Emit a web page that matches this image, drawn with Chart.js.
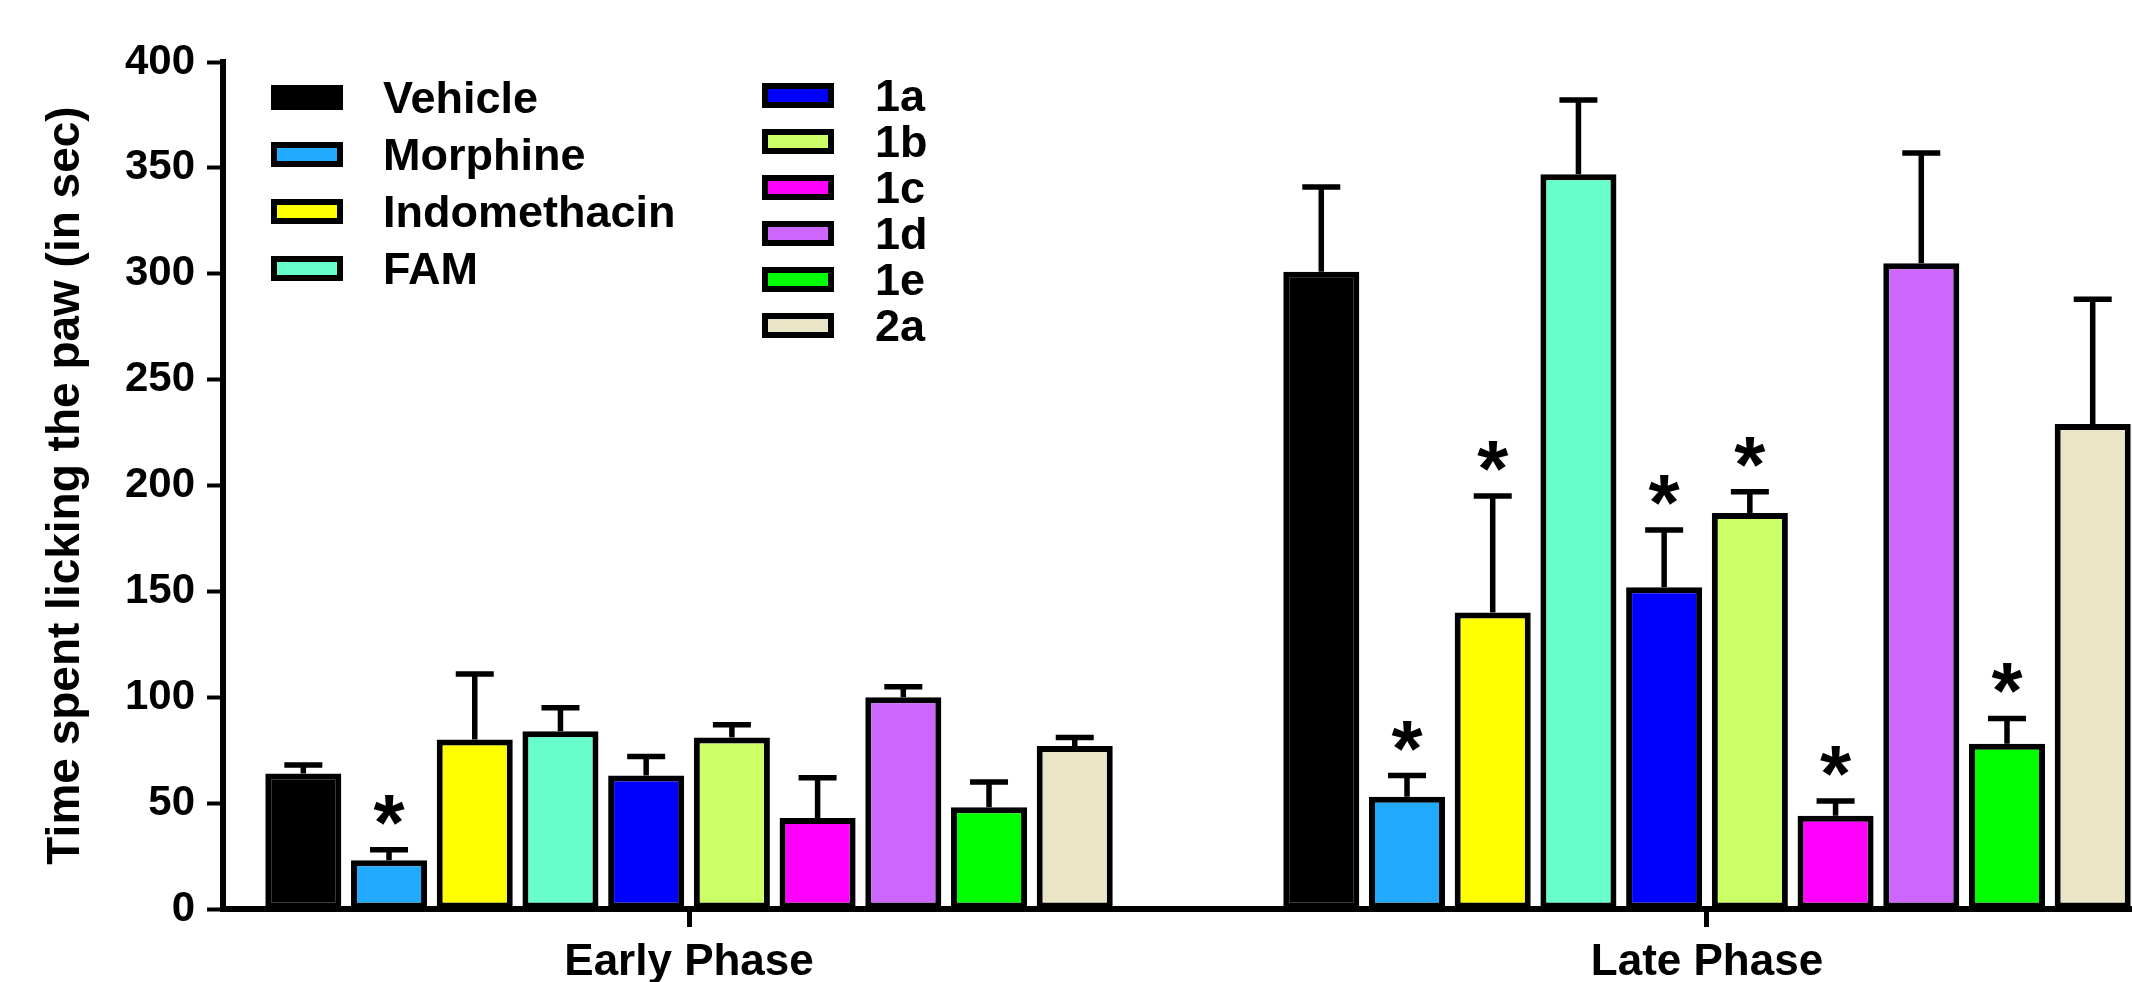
<!DOCTYPE html>
<html>
<head>
<meta charset="utf-8">
<script src="https://cdn.jsdelivr.net/npm/chart.js@4.4.0/dist/chart.umd.min.js"></script>
<style>
  html, body { margin: 0; padding: 0; background: #fff; overflow: hidden; }
  #wrap { position: relative; width: 2132px; height: 982px; }
  #chart { position: absolute; left: 0; top: 0; }
  .legend-item {
    position: absolute;
    display: flex;
    align-items: center;
    font: bold 45px "Liberation Sans", Arial, sans-serif;
    color: #000;
    line-height: 1;
    white-space: nowrap;
  }
  .legend-box {
    width: 72px;
    height: 25px;
    border: 6px solid #000;
    box-sizing: border-box;
  }
</style>
</head>
<body>
<div id="wrap">
  <canvas id="chart" width="2132" height="982"></canvas>
  <div id="legend"></div>
</div>
<script>
const phases = ["Early Phase", "Late Phase"]
const groups = ["Vehicle", "Morphine", "Indomethacin", "FAM", "1a", "1b", "1c", "1d", "1e", "2a"]
const groupColors = ["#000000", "#22aaff", "#ffff00", "#66ffcc", "#0000ff", "#ccff66", "#ff00ff", "#cc66ff", "#00ff00", "#ebe5c8"]

// mean time (sec) and SEM
const earlyMeans = [64, 23, 80, 84, 63, 81, 43, 100, 48, 77]
const earlySem = [4, 5, 31, 11, 9, 6, 19, 5, 12, 4]
const lateMeans = [301, 53, 140, 347, 152, 187, 44, 305, 78, 229]
const lateSem = [40, 10, 55, 35, 27, 10, 7, 52, 12, 59]

// * = significant vs vehicle
const earlySig = [false, true, false, false, false, false, false, false, false, false]
const lateSig = [false, true, true, false, true, true, true, false, true, false]

const yTicks = { min: 0, max: 400, step: 50 }

const FONT = "'Liberation Sans', Arial, sans-serif"

// the figure is cropped on the right, so the x range runs past the 2a bar
const xRange = { min: -0.4578, max: 1.4175 }

// error bars + significance stars
const errorBars = {
  id: "errorBars",
  afterDatasetsDraw(chart) {
    const { ctx } = chart
    const y = chart.scales.y
    ctx.save()
    ctx.strokeStyle = "#000"
    ctx.fillStyle = "#000"
    ctx.lineWidth = 5.5
    chart.data.datasets.forEach((ds, i) => {
      const meta = chart.getDatasetMeta(i)
      meta.data.forEach((bar, j) => {
        const point = ds.data[j]
        const top = y.getPixelForValue(point.y + point.sem)
        ctx.beginPath()
        ctx.moveTo(bar.x, bar.y)
        ctx.lineTo(bar.x, top)
        ctx.moveTo(bar.x - 19, top)
        ctx.lineTo(bar.x + 19, top)
        ctx.stroke()
        if (point.sig) {
          ctx.font = "bold 80px " + FONT
          ctx.textAlign = "center"
          ctx.textBaseline = "alphabetic"
          // star sits a little above the cap
          ctx.fillText("*", bar.x, top - 46 + 46)
        }
      })
    })
    ctx.restore()
  }
}

const datasets = groups.map((name, i) => ({
  label: name,
  data: [
    { x: 0, y: earlyMeans[i], sem: earlySem[i], sig: earlySig[i] },
    { x: 1, y: lateMeans[i], sem: lateSem[i], sig: lateSig[i] }
  ],
  backgroundColor: groupColors[i],
  borderColor: "#000",
  borderWidth: 6,
  borderSkipped: false,
  categoryPercentage: 0.842,
  barPercentage: 0.887
}))

new Chart(document.getElementById("chart"), {
  type: "bar",
  data: { datasets: datasets },
  options: {
    responsive: false,
    animation: false,
    layout: { padding: { left: 39, top: 62, right: 0, bottom: 0 } },
    plugins: {
      legend: { display: false },
      tooltip: { enabled: false }
    },
    scales: {
      x: {
        type: "linear",
        offset: false,
        bounds: "data",
        min: xRange.min,
        max: xRange.max,
        afterDataLimits(scale) {
          scale.min = xRange.min
          scale.max = xRange.max
        },
        afterBuildTicks(scale) {
          scale.ticks = phases.map((p, i) => ({ value: i }))
        },
        afterFit(scale) {
          scale.height = 73
          scale.paddingLeft = 0
          scale.paddingRight = 0
        },
        ticks: {
          callback: (value) => phases[value],
          font: { family: FONT, size: 44, weight: "bold" },
          color: "#000",
          padding: 9,
          maxRotation: 0,
          autoSkip: false
        },
        grid: {
          offset: false,
          drawOnChartArea: false,
          drawTicks: true,
          tickLength: 18,
          tickWidth: 5,
          tickColor: "#000"
        },
        border: { display: true, color: "#000", width: 6 }
      },
      y: {
        min: yTicks.min,
        max: yTicks.max,
        afterFit(scale) {
          scale.width = 184
        },
        ticks: {
          stepSize: yTicks.step,
          font: { family: FONT, size: 42, weight: "bold" },
          color: "#000",
          padding: 12
        },
        grid: {
          drawOnChartArea: false,
          tickLength: 16,
          tickWidth: 4,
          tickColor: "#000"
        },
        border: { display: true, color: "#000", width: 6 },
        title: {
          display: true,
          text: "Time spent licking the paw (in sec)",
          font: { family: FONT, size: 46, weight: "bold" },
          color: "#000",
          padding: 0
        }
      }
    }
  },
  plugins: [errorBars]
})

// legend in two columns, like the figure
const legendCols = [
  { items: [0, 1, 2, 3], left: 271, top: 97, gap: 57, textGap: 40 },
  { items: [4, 5, 6, 7, 8, 9], left: 762, top: 95, gap: 46, textGap: 41 }
]
const legend = document.getElementById("legend")
legendCols.forEach(col => {
  col.items.forEach((g, k) => {
    const item = document.createElement("div")
    item.className = "legend-item"
    item.style.left = col.left + "px"
    item.style.top = (col.top + k * col.gap - 25) + "px"
    item.style.height = "50px"
    const box = document.createElement("div")
    box.className = "legend-box"
    box.style.background = groupColors[g]
    box.style.marginRight = col.textGap + "px"
    const label = document.createElement("span")
    label.textContent = groups[g]
    item.appendChild(box)
    item.appendChild(label)
    legend.appendChild(item)
  })
})
</script>
</body>
</html>
